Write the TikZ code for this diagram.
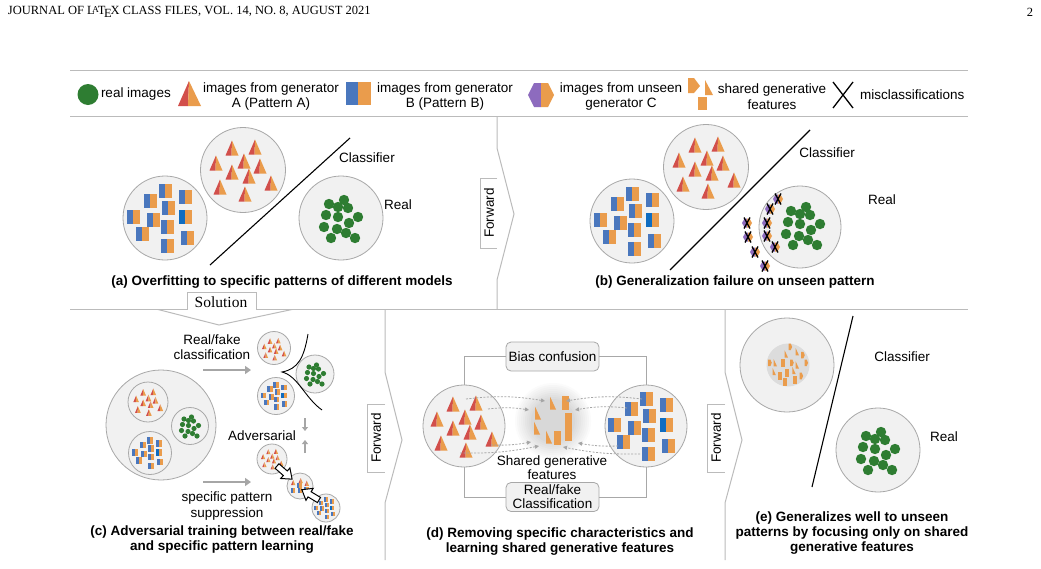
\documentclass[tikz,border=0pt]{standalone}
\usepackage{fontspec}
\setmainfont{Liberation Sans}
\newfontfamily\serifhdr{Liberation Serif}
\usetikzlibrary{arrows.meta}
\definecolor{cred}{HTML}{D24F4B}
\definecolor{corange}{HTML}{EA9C4C}
\definecolor{cblue}{HTML}{4A77BD}
\definecolor{cblueb}{HTML}{0F6CC0}
\definecolor{cgreen}{HTML}{2E7D32}
\definecolor{cpurple}{HTML}{8D6BBE}
\definecolor{cfill}{HTML}{F1F1F1}
\definecolor{cedge}{HTML}{A8A8A8}
\definecolor{cline}{HTML}{BBBBBB}
\definecolor{garr}{HTML}{A6A6A6}
\definecolor{cinner}{HTML}{DCDCDC}
\definecolor{cblob}{HTML}{D8D8D8}

\newcommand\TriA[2]{%
  \fill[cred] (#1,{#2-7.5}) -- ({#1-6.5},{#2+7.5}) -- ({#1-0.5},{#2+7.5}) -- cycle;
  \fill[corange] (#1,{#2-7.5}) -- ({#1-0.5},{#2+7.5}) -- ({#1+6.5},{#2+7.5}) -- cycle;}
\newcommand\BPair[2]{%
  \fill[cblue] ({#1-6.5},{#2-7}) rectangle (#1,{#2+7});
  \fill[corange] (#1,{#2-7}) rectangle ({#1+6.5},{#2+7});}
\newcommand\BPairB[2]{%
  \fill[cblueb] ({#1-6.5},{#2-7}) rectangle (#1,{#2+7});
  \fill[corange] (#1,{#2-7}) rectangle ({#1+6.5},{#2+7});}
\newcommand\GDot[2]{\fill[cgreen] (#1,#2) circle (5.2);}
\newcommand\HexX[2]{%
  \fill[cpurple] ({#1-5},#2) -- ({#1-2.5},{#2-4.5}) -- (#1,{#2-4.5}) -- (#1,{#2+4.5}) -- ({#1-2.5},{#2+4.5}) -- cycle;
  \fill[corange] (#1,{#2-4.5}) -- ({#1+2.5},{#2-4.5}) -- ({#1+5},#2) -- ({#1+2.5},{#2+4.5}) -- (#1,{#2+4.5}) -- cycle;
  \draw[black, line width=1.3pt] ({#1-3},{#2-5.5}) -- ({#1+3},{#2+5.5}) ({#1+3},{#2-5.5}) -- ({#1-3},{#2+5.5});}
\newcommand\OTri[2]{\fill[corange] (#1,{#2-6.5}) -- (#1,{#2+6.5}) -- ({#1+6},{#2+6.5}) -- cycle;}
\newcommand\ORect[2]{\fill[corange] ({#1-3.5},{#2-7}) rectangle ({#1+3.5},{#2+7});}
\newcommand\OFlag[2]{\fill[corange] ({#1-3},{#2-6}) -- ({#1+1},{#2-6}) -- ({#1+3.5},#2) -- ({#1+1},{#2+6}) -- ({#1-3},{#2+6}) -- cycle;}

\newcommand\TriGroup{\TriA{-11}{-22}\TriA{12}{-23}\TriA{1}{-9}\TriA{17}{-4}\TriA{-27}{-7}\TriA{-11}{2}\TriA{6}{6}\TriA{28}{13}\TriA{-23}{17}\TriA{2}{24}}
\newcommand\BlueGroup{\BPair{0}{-27}\BPair{-15}{-17}\BPair{20}{-21}\BPair{3}{-10}\BPair{-32}{-1}\BPair{-12}{2}\BPairB{20}{-1}\BPair{2}{9}\BPair{-23}{16}\BPair{22}{20}\BPair{2}{28}}
\newcommand\GreenGroup{\GDot{-12}{-14}\GDot{3}{-18}\GDot{-3}{-11}\GDot{7}{-10}\GDot{-15}{-3}\GDot{-3}{-1}\GDot{17}{-1}\GDot{8}{5}\GDot{-17}{9}\GDot{-4}{11}\GDot{5}{15}\GDot{-10}{20}\GDot{14}{20}}
\newcommand\HdrLaTeX{L\kern-0.2em\raisebox{0.16em}{\fontsize{9}{9}\selectfont A}\kern-0.08em T\kern-0.1em\lower0.24em\hbox{E}\kern-0.1em X}

\begin{document}
\begin{tikzpicture}[x=1pt,y=-1pt,
  every node/.style={inner sep=0pt, outer sep=0pt},
  circ/.style={circle, draw=cedge, fill=cfill, line width=0.8pt, minimum size=#1},
  lbl/.style={font=\fontsize{13.5}{15.5}\selectfont, align=center},
  lbltight/.style={font=\fontsize{13.5}{14}\selectfont, align=center},
  captxt/.style={font=\bfseries\fontsize{13.5}{15}\selectfont, align=center},
  frame/.style={draw=cline, line width=1pt, line join=miter},
  conn/.style={draw=cedge, line width=0.9pt},
  garrow/.style={draw=garr, line width=1.6pt, -{Triangle[length=6pt,width=8pt]}},
  garrowsm/.style={draw=garr, line width=1.2pt, -{Triangle[length=4pt,width=6pt]}},
  darrow/.style={draw=garr, line width=0.8pt, dash pattern=on 2pt off 1.5pt, -{Triangle[length=4pt,width=4pt]}},
  clsline/.style={draw=black, line width=1.1pt},
  boxnode/.style={draw=cedge, fill=cfill, line width=0.8pt, rounded corners=5pt, minimum width=93pt, minimum height=29pt}
]
\useasboundingbox (0,0) rectangle (1041,568);
\fill[white] (0,0) rectangle (1041,568);

% header
\node[anchor=west, font=\serifhdr\fontsize{12.5}{14}\selectfont] (hdr) at (8,12) {JOURNAL OF \HdrLaTeX\ CLASS FILES, VOL. 14, NO. 8, AUGUST 2021};
\node[font=\serifhdr\fontsize{12.5}{14}\selectfont] (pgno) at (1030,12) {2};

% legend
\draw[frame] (70,70) -- (968,70);
\draw[frame] (70,116) -- (968,116);
\fill[cgreen] (88,94.5) circle (10.5);
\node[lbl, anchor=west] (lg1) at (101,94.5) {real images};
\fill[cred] (189,81) -- (178,106) -- (188,106) -- cycle;
\fill[corange] (189,81) -- (188,106) -- (201,106) -- cycle;
\node[lbl] (lg2) at (271,96.5) {images from generator\\A (Pattern A)};
\fill[cblue] (346,82) rectangle (358,105);
\fill[corange] (358,82) rectangle (371,105);
\node[lbl] (lg3) at (445,96.5) {images from generator\\B (Pattern B)};
\fill[cpurple] (528,95) -- (534,83) -- (541,83) -- (541,107) -- (534,107) -- cycle;
\fill[corange] (541,83) -- (548,83) -- (554,95) -- (548,107) -- (541,107) -- cycle;
\node[lbl] (lg4) at (621,96.5) {images from unseen\\generator C};
\fill[corange] (688,78) -- (694,78) -- (700,86) -- (694,93) -- (688,93) -- cycle;
\fill[corange] (705,80) -- (705,95) -- (713,95) -- cycle;
\fill[corange] (698,97) rectangle (707,110);
\node[lbl] (lg5) at (772,96.5) {shared generative\\features};
\draw[black, line width=1.3pt] (833,82) -- (853,108) (853,82) -- (833,108);
\node[lbl, anchor=west] (lg6) at (860,94.5) {misclassifications};

% ---------- panel (a)
\node[circ=85] (aT) at (243,170) {};
\node[circ=84] (aB) at (165,218) {};
\node[circ=84] (aR) at (341,218) {};
\begin{scope}[shift={(243,170)}]\TriGroup\end{scope}
\begin{scope}[shift={(165,218)}]\BlueGroup\end{scope}
\begin{scope}[shift={(341,218)}]\GreenGroup\end{scope}
\coordinate (aC1) at (210,265);
\coordinate (aC2) at (350,138);
\draw[clsline] (aC1) -- (aC2);
\node[lbl] (aCl) at (367,158) {Classifier};
\node[lbl] (aRl) at (398,205) {Real};
\node[captxt] (capa) at (282,282) {(a) Overfitting to specific patterns of different models};

% divider a/b with Forward
\draw[frame] (497,116) -- (497,148) -- (514,214) -- (497,280) -- (497,309.5);
\draw[frame] (497,178) -- (480,178) -- (480,248) -- (497,248);
\node[lbl, rotate=90] (fw1) at (489,213) {Forward};

% ---------- panel (b)
\node[circ=85] (bT) at (706,167) {};
\node[circ=84] (bB) at (632,221) {};
\node[circ=82] (bR) at (800,227) {};
\begin{scope}[shift={(706,167)}]\TriGroup\end{scope}
\begin{scope}[shift={(632,221)}]\BlueGroup\end{scope}
\begin{scope}[shift={(803,225)}]\GreenGroup\end{scope}
\HexX{778}{199}\HexX{770}{209}\HexX{747}{223}\HexX{767}{223}\HexX{748}{237}
\HexX{767}{236}\HexX{755}{252}\HexX{775}{247}\HexX{765}{266}
\coordinate (bC1) at (670,270);
\coordinate (bC2) at (810,130);
\draw[clsline] (bC1) -- (bC2);
\node[lbl] (bCl) at (827,153) {Classifier};
\node[lbl] (bRl) at (882,200) {Real};
\node[captxt] (capb) at (735,282) {(b) Generalization failure on unseen pattern};

% middle separator with Solution
\draw[frame] (70,309.5) -- (187,309.5) -- (187,292) -- (256,292) -- (256,309.5) -- (968,309.5);
\draw[frame] (158,309.5) -- (219,325) -- (292,309.5);
\node[font=\serifhdr\fontsize{15.5}{16}\selectfont] (sol) at (221,302) {Solution};

% ---------- panel (c)
\node[circ=110] (cBig) at (161,425) {};
\node[circ=40] (cT) at (148,402) {};
\node[circ=37] (cG) at (190,426) {};
\node[circ=43] (cB) at (150,453) {};
\begin{scope}[shift={(148,402)}, scale=0.44]\TriGroup\end{scope}
\begin{scope}[shift={(190,426)}, scale=0.5]\GreenGroup\end{scope}
\begin{scope}[shift={(150,453)}, scale=0.46]\BlueGroup\end{scope}

\node[circ=33] (cT2) at (274,348) {};
\node[circ=38] (cG2) at (315,374) {};
\node[circ=37] (cB2) at (276,396) {};
\begin{scope}[shift={(274,349)}, scale=0.36]\TriGroup\end{scope}
\begin{scope}[shift={(315,374)}, scale=0.5]\GreenGroup\end{scope}
\begin{scope}[shift={(276,396)}, scale=0.4]\BlueGroup\end{scope}
\draw[black, line width=0.9pt] (308,334) .. controls (304,358) and (298,369) .. (282,372) .. controls (298,376) and (305,398) .. (322,410);

\node[circ=30] (cT3) at (272,459) {};
\node[circ=26] (cM3) at (300,486) {};
\node[circ=28] (cB3) at (326,508) {};
\begin{scope}[shift={(272,459)}, scale=0.33]\TriGroup\end{scope}
\begin{scope}[shift={(300,486)}, scale=0.34]
  \TriA{-20}{-10}\TriA{2}{-16}\TriA{20}{-8}\BPair{-20}{14}\BPair{0}{14}\BPair{19}{10}\BPair{-2}{-2}
\end{scope}
\begin{scope}[shift={(326,508)}, scale=0.31]\BlueGroup\end{scope}
\draw[black, line width=1pt, fill=white, shift={(277,466)}, rotate=-41] (0,-3) -- (11,-3) -- (11,-7) -- (20,0) -- (11,7) -- (11,3) -- (0,3) -- cycle;
\draw[black, line width=1pt, fill=white, shift={(319,500)}, rotate=149] (0,-3) -- (11,-3) -- (11,-7) -- (20,0) -- (11,7) -- (11,3) -- (0,3) -- cycle;

\node[lbl] (cRF) at (212,347) {Real/fake\\classification};
\coordinate (cA1s) at (203,370);
\coordinate (cA1e) at (251,370);
\draw[garrow] (cA1s) -- (cA1e);
\node[lbl] (cAdv) at (262,436) {Adversarial};
\coordinate (cD1s) at (305,418);
\coordinate (cD1e) at (305,431);
\coordinate (cD2s) at (305,453);
\coordinate (cD2e) at (305,440);
\draw[garrowsm] (cD1s) -- (cD1e);
\draw[garrowsm] (cD2s) -- (cD2e);
\coordinate (cA2s) at (203,482);
\coordinate (cA2e) at (251,482);
\draw[garrow] (cA2s) -- (cA2e);
\node[lbl] (cSP) at (227,506) {specific pattern\\suppression};
\node[captxt] (capc) at (222,540) {(c) Adversarial training between real/fake\\and specific pattern learning};

% divider c/d
\draw[frame] (385,309.5) -- (385,372) -- (402,440) -- (385,503) -- (385,560);
\draw[frame] (385,404) -- (367,404) -- (367,472) -- (385,472);
\node[lbl, rotate=90] (fw2) at (376,438) {Forward};

% ---------- panel (d)
\foreach \i in {0,...,9}{%
  \pgfmathsetmacro\rr{40-2*\i}%
  \pgfmathsetmacro\pc{\i*11}%
  \fill[cblob!\pc!white] (553,421) circle (\rr);}
\node[circ=82] (dL) at (464,426) {};
\node[circ=82] (dR) at (646,426) {};
\begin{scope}[shift={(464,426)}]\TriGroup\end{scope}
\begin{scope}[shift={(646,426)}]\BlueGroup\end{scope}
\OTri{550}{403}\ORect{565}{403}\OTri{535}{413}\ORect{568}{420}
\OTri{534}{428}\OTri{546}{437}\ORect{557}{438}\ORect{568}{434}
\node[boxnode] (bias) at (552.5,356.5) {\fontsize{13.5}{14}\selectfont Bias confusion};
\node[boxnode, lbltight] (rfc) at (552.5,497) {Real/fake\\Classification};
\draw[conn] (dL.north) |- (bias.west);
\draw[conn] (bias.east) -| (dR.north);
\draw[conn] (dL.south) |- (rfc.west);
\draw[conn] (rfc.east) -| (dR.south);
\coordinate (dl1s) at (466,399); \coordinate (dl1e) at (545,401);
\coordinate (dl2s) at (488,409); \coordinate (dl2e) at (529,410);
\coordinate (dl3s) at (491,445); \coordinate (dl3e) at (531,442);
\coordinate (dl4s) at (460,453); \coordinate (dl4e) at (539,446);
\coordinate (dr1s) at (642,399); \coordinate (dr1e) at (566,401);
\coordinate (dr2s) at (627,408); \coordinate (dr2e) at (575,410);
\coordinate (dr3s) at (618,446); \coordinate (dr3e) at (578,443);
\coordinate (dr4s) at (640,454); \coordinate (dr4e) at (563,447);
\draw[darrow] (dl1s) to[bend left=8] (dl1e);
\draw[darrow] (dl2s) to[bend left=8] (dl2e);
\draw[darrow] (dl3s) to[bend right=6] (dl3e);
\draw[darrow] (dl4s) to[bend right=6] (dl4e);
\draw[darrow] (dr1s) to[bend right=8] (dr1e);
\draw[darrow] (dr2s) to[bend right=8] (dr2e);
\draw[darrow] (dr3s) to[bend left=6] (dr3e);
\draw[darrow] (dr4s) to[bend left=6] (dr4e);
\node[lbltight] (dSG) at (552,467.5) {Shared generative\\features};
\node[captxt] (capd) at (560,541.5) {(d) Removing specific characteristics and\\learning shared generative features};

% divider d/e
\draw[frame] (725,309.5) -- (725,372) -- (742,440) -- (725,503) -- (725,560);
\draw[frame] (725,404) -- (707,404) -- (707,472) -- (725,472);
\node[lbl, rotate=90] (fw3) at (716,438) {Forward};

% ---------- panel (e)
\node[circ=94] (eF) at (787,365) {};
\node[circle, fill=cinner, minimum size=43] (eIn) at (788,365) {};
\begin{scope}[shift={(788,365)}, scale=0.55]
  \OFlag{4}{-33}\OTri{14}{-24}\OTri{-6}{-20}\OFlag{27}{-18}\OFlag{-33}{-4}\OTri{-26}{-4}
  \ORect{-9}{-4}\OFlag{7}{-4}\OTri{14}{0}\OFlag{33}{-4}\OTri{-28}{12}\ORect{-15}{20}
  \ORect{-2}{15}\OTri{8}{10}\ORect{13}{27}\OFlag{24}{20}\ORect{-5}{31}
\end{scope}
\node[circ=84] (eR) at (878,450) {};
\begin{scope}[shift={(878,450)}]\GreenGroup\end{scope}
\coordinate (eC1) at (853,316);
\coordinate (eC2) at (812,487);
\draw[clsline] (eC1) -- (eC2);
\node[lbl] (eCl) at (902,357) {Classifier};
\node[lbl] (eRl) at (944,437) {Real};
\node[captxt] (cape) at (852,533) {(e) Generalizes well to unseen\\patterns by focusing only on shared\\generative features};
\end{tikzpicture}
\end{document}
